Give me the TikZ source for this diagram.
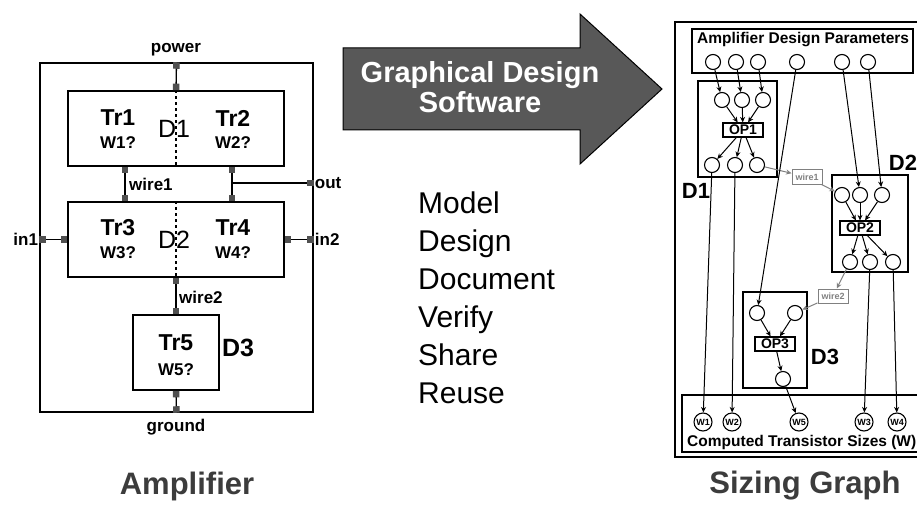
\documentclass[tikz,border=0pt]{standalone}
\usepackage{fontspec}
\setmainfont{Liberation Sans}
\usepackage{xcolor}
\usetikzlibrary{arrows.meta, positioning}
\definecolor{arrowgray}{RGB}{88,88,88}
\definecolor{termgray}{RGB}{80,80,80}
\definecolor{capgray}{RGB}{60,60,60}
\tikzstyle{arrow} = [line width=1pt,-{Stealth[length=5.5pt,width=5pt]}]
\tikzstyle{conn} = [line width=1.3pt,{Square[length=6.5pt,width=6.5pt,color=termgray]}-{Square[length=6.5pt,width=6.5pt,color=termgray]}]

\begin{document}
\begin{tikzpicture}[
				x=1pt, y=-1pt,
				box/.style={draw, line width=1.8pt, inner sep=0pt},
				tr/.style={font=\fontsize{23}{23}\selectfont\bfseries},
				wid/.style={font=\fontsize{17}{17}\selectfont\bfseries},
				dlbl/.style={font=\fontsize{25}{25}\selectfont},
				lbl/.style={font=\fontsize{17}{17}\selectfont\bfseries, inner sep=1pt},
				pnode/.style={draw, circle, line width=1.1pt, minimum size=15pt, inner sep=0pt},
				opbox/.style={draw, line width=1.2pt, minimum width=40pt, minimum height=14pt, inner sep=1pt, font=\fontsize{14}{14}\selectfont\bfseries},
				wirebox/.style={draw=gray, line width=1pt, text=gray, minimum width=30pt, minimum height=14pt, inner sep=1pt, font=\fontsize{9}{9}\selectfont\bfseries},
				wnode/.style={draw, circle, line width=1.1pt, minimum size=18pt, inner sep=0pt, font=\fontsize{9}{9}\selectfont\bfseries},
				sglbl/.style={font=\fontsize{22}{22}\selectfont\bfseries},
				caption/.style={font=\fontsize{31}{31}\selectfont\bfseries, text=capgray}
				]
				\useasboundingbox (0,0) rectangle (917,505);
				
				% amplifier
				\node (amp) at (176.5,237.5) [draw, line width=1.5pt, minimum width=273pt, minimum height=349pt] {};
				\node (d1) at (176,128.5) [box, minimum width=216pt, minimum height=75pt] {};
				\node (d2) at (176,239.5) [box, minimum width=216pt, minimum height=75pt] {};
				\node (d3) at (176,352.5) [box, minimum width=86pt, minimum height=75pt] {};
				\draw[dashed, line width=1.2pt] (d1.north) -- (d1.south);
				\draw[dashed, line width=1.2pt] (d2.north) -- (d2.south);
				
				\node (tr1) at (118,118) [tr] {Tr1};
				\node (w1q) at (118,143) [wid] {W1?};
				\node (tr2) at (233,118) [tr] {Tr2};
				\node (w2q) at (233,143) [wid] {W2?};
				\node (d1lbl) at (174,129) [dlbl] {D1};
				\node (tr3) at (118,228) [tr] {Tr3};
				\node (w3q) at (118,253) [wid] {W3?};
				\node (tr4) at (233,228) [tr] {Tr4};
				\node (w4q) at (233,253) [wid] {W4?};
				\node (d2lbl) at (174,240) [dlbl] {D2};
				\node (tr5) at (176,343) [tr] {Tr5};
				\node (w5q) at (176,370) [wid] {W5?};
				\node (d3lbl) at (238,348) [dlbl, font=\fontsize{25}{25}\selectfont\bfseries] {D3};
				
				\coordinate (wj) at (125,183);
				\coordinate (outj) at (232,183);
				\draw[conn] (amp.north) -- (d1.north);
				\draw[conn] (d1.south -| wj) -- (d2.north -| wj);
				\draw[conn] (d1.south -| outj) -- (d2.north -| outj);
				\draw[line width=1.3pt, -{Square[length=6.5pt,width=6.5pt,color=termgray]}] (outj) -- (outj -| amp.east);
				\draw[conn] (amp.west |- d2) -- (d2.west);
				\draw[conn] (d2.east) -- (amp.east |- d2);
				\draw[conn] (d2.south) -- (d3.north);
				\draw[conn] (d3.south) -- (amp.south);
				
				\node (power) at (176,50) [lbl] {power};
				\node (ground) at (176,427) [lbl] {ground};
				\node (wire1) [lbl, anchor=west] at (128,184) {wire1};
				\node (wire2) [lbl, anchor=west] at (178,297) {wire2};
				\node (out) [lbl, anchor=west] at (amp.east |- outj) {out};
				\node (in2) [lbl, anchor=west] at (amp.east |- d2) {in2};
				\node (in1) [lbl, anchor=east] at (amp.west |- d2) {in1};
				
				% software arrow
				\draw[fill=arrowgray, line width=1pt] (343,48) -- (580,48) -- (580,14) -- (662,89) -- (580,164) -- (580,130) -- (343,130) -- cycle;
				\node (gds) at (480,87) [text=white, align=center, font=\fontsize{29}{30}\selectfont\bfseries] {Graphical Design\\Software};
				
				% tasks
				\foreach \w [count=\i from 0] in {Model,Design,Document,Verify,Share,Reuse}
					\node (task\i) [anchor=base west, inner sep=0pt, font=\fontsize{30}{30}\selectfont] at (418,213+38*\i) {\w};
				
				% sizing graph
				\node (sg) at (805,239.5) [draw, line width=1.8pt, minimum width=260pt, minimum height=435pt] {};
				\node (params) at (802.5,51) [draw, line width=1.8pt, minimum width=221pt, minimum height=44pt] {};
				\node (ptitle) [anchor=west, inner sep=0pt, font=\fontsize{15.5}{15.5}\selectfont\bfseries] at (697,40) {Amplifier Design Parameters};
				\node (sizes) at (810,423.5) [draw, line width=1.8pt, minimum width=256pt, minimum height=57pt] {};
				\node (stitle) [anchor=west, inner sep=0pt, font=\fontsize{15.5}{15.5}\selectfont\bfseries] at (687,442) {Computed Transistor Sizes (W)};
				
				\node (par1) at (713,62) [pnode] {};
				\node (par2) at (736,62) [pnode] {};
				\node (par3) at (758,62) [pnode] {};
				\node (par4) at (797,62) [pnode] {};
				\node (par5) at (842,62) [pnode] {};
				\node (par6) at (868,62) [pnode] {};
				
				\node (sd1) at (737.5,129) [draw, line width=1.6pt, minimum width=79pt, minimum height=96pt] {};
				\node (sd1lbl) at (696,191) [sglbl] {D1};
				\node (op1in1) at (722,100) [pnode] {};
				\node (op1in2) at (742,100) [pnode] {};
				\node (op1in3) at (763,100) [pnode] {};
				\node (op1) at (743,130) [opbox] {OP1};
				\node (op1out1) at (712,165) [pnode] {};
				\node (op1out2) at (735,165) [pnode] {};
				\node (op1out3) at (757,165) [pnode] {};
				
				\node (sw1) at (807,177) [wirebox] {wire1};
				
				\node (sd2) at (870,223.5) [draw, line width=1.6pt, minimum width=76pt, minimum height=97pt] {};
				\node (sd2lbl) at (903,163) [sglbl] {D2};
				\node (op2in1) at (842,195) [pnode] {};
				\node (op2in2) at (860,195) [pnode] {};
				\node (op2in3) at (882,195) [pnode] {};
				\node (op2) at (860,228) [opbox] {OP2};
				\node (op2out1) at (850,262) [pnode] {};
				\node (op2out2) at (870,262) [pnode] {};
				\node (op2out3) at (893,262) [pnode] {};
				
				\node (sw2) at (833,296) [wirebox] {wire2};
				
				\node (sd3) at (775,340) [draw, line width=1.6pt, minimum width=64pt, minimum height=96pt] {};
				\node (sd3lbl) at (825,357) [sglbl] {D3};
				\node (op3in1) at (757,313) [pnode] {};
				\node (op3in2) at (795,313) [pnode] {};
				\node (op3) at (775,344) [opbox] {OP3};
				\node (op3out) at (783,379) [pnode] {};
				
				\node (sw1n) at (703,422) [wnode] {W1};
				\node (sw2n) at (732,422) [wnode] {W2};
				\node (sw5n) at (799,422) [wnode] {W5};
				\node (sw3n) at (864,422) [wnode] {W3};
				\node (sw4n) at (897,422) [wnode] {W4};
				
				\draw[arrow] (par1) -- (op1in1);
				\draw[arrow] (par2) -- (op1in2);
				\draw[arrow] (par3) -- (op1in3);
				\draw[arrow] (op1in1) -- (op1);
				\draw[arrow] (op1in2) -- (op1);
				\draw[arrow] (op1in3) -- (op1);
				\draw[arrow] (op1) -- (op1out1);
				\draw[arrow] (op1) -- (op1out2);
				\draw[arrow] (op1) -- (op1out3);
				\draw[arrow, gray] (op1out3) -- (sw1);
				\draw[arrow, gray] (sw1) -- (op2in1);
				\draw[arrow] (par5) -- (op2in2);
				\draw[arrow] (par6) -- (op2in3);
				\draw[arrow] (op2in1) -- (op2);
				\draw[arrow] (op2in2) -- (op2);
				\draw[arrow] (op2in3) -- (op2);
				\draw[arrow] (op2) -- (op2out1);
				\draw[arrow] (op2) -- (op2out2);
				\draw[arrow] (op2) -- (op2out3);
				\draw[arrow, gray] (op2out1) -- (sw2);
				\draw[arrow, gray] (sw2) -- (op3in2);
				\draw[arrow] (par4) -- (op3in1);
				\draw[arrow] (op3in1) -- (op3);
				\draw[arrow] (op3in2) -- (op3);
				\draw[arrow] (op3) -- (op3out);
				\draw[arrow] (op1out1) -- (sw1n);
				\draw[arrow] (op1out2) -- (sw2n);
				\draw[arrow] (op3out) -- (sw5n);
				\draw[arrow] (op2out2) -- (sw3n);
				\draw[arrow] (op2out3) -- (sw4n);
				
				% captions
				\node (capamp) at (187,486) [caption] {Amplifier};
				\node (capsg) at (805,486) [caption] {Sizing Graph};
			\end{tikzpicture}
\end{document}
